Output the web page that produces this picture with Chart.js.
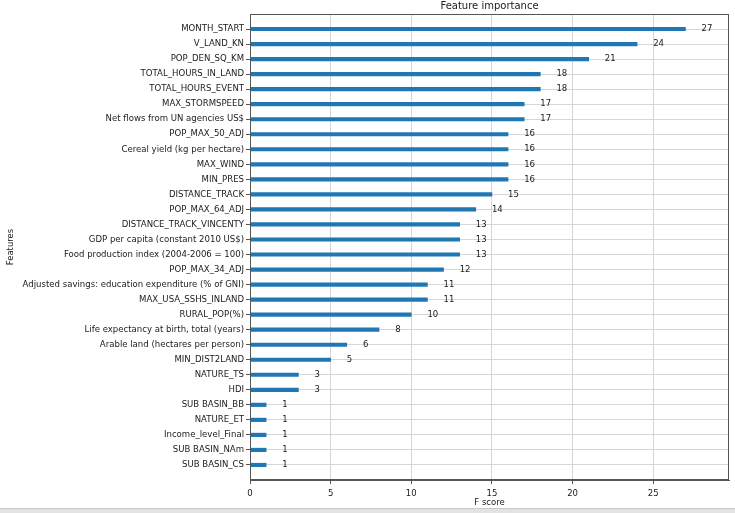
<!DOCTYPE html>
<html>
<head>
<meta charset="utf-8">
<script src="https://cdn.jsdelivr.net/npm/chart.js@4/dist/chart.umd.min.js"></script>
<style>
  html, body { margin: 0; padding: 0; background: #fff; }
  #wrap { position: relative; width: 735px; height: 508px; }
  #strip { width: 735px; height: 5px; background: #e3e3e3; border-top: 1px solid #c8c8c8; box-sizing: border-box; }
</style>
</head>
<body>
<div id="wrap"><canvas id="chart"></canvas></div>
<div id="strip"></div>
<script>
// — datos —
const features = [
  'MONTH_START', 'V_LAND_KN', 'POP_DEN_SQ_KM', 'TOTAL_HOURS_IN_LAND', 'TOTAL_HOURS_EVENT',
  'MAX_STORMSPEED', 'Net flows from UN agencies US$', 'POP_MAX_50_ADJ', 'Cereal yield (kg per hectare)',
  'MAX_WIND', 'MIN_PRES', 'DISTANCE_TRACK', 'POP_MAX_64_ADJ', 'DISTANCE_TRACK_VINCENTY',
  'GDP per capita (constant 2010 US$)', 'Food production index (2004-2006 = 100)', 'POP_MAX_34_ADJ',
  'Adjusted savings: education expenditure (% of GNI)', 'MAX_USA_SSHS_INLAND', 'RURAL_POP(%)',
  'Life expectancy at birth, total (years)', 'Arable land (hectares per person)', 'MIN_DIST2LAND',
  'NATURE_TS', 'HDI', 'SUB BASIN_BB', 'NATURE_ET', 'Income_level_Final', 'SUB BASIN_NAm', 'SUB BASIN_CS'
];
const fscores = [27, 24, 21, 18, 18, 17, 17, 16, 16, 16, 16, 15, 14, 13, 13, 13, 12, 11, 11, 10, 8, 6, 5, 3, 3, 1, 1, 1, 1, 1];
const xTicks = [0, 5, 10, 15, 20, 25];

const FONT = "'DejaVu Sans', sans-serif";
const BLUE = '#1f77b4';
const GRID = '#d6d6d6';
const SPINE = '#555';
const TEXT = '#1a1a1a';

// — marco, título y etiquetas de valor —
const extras = {
  id: 'extras',
  afterDatasetsDraw(chart) {
    const { ctx, chartArea: a, scales: { x, y } } = chart;
    ctx.save();
    // marco completo (arriba y derecha incluidos)
    ctx.strokeStyle = SPINE;
    ctx.lineWidth = 1;
    ctx.strokeRect(a.left + 0.5, a.top + 0.5, a.right - a.left - 1, a.bottom - a.top - 1);
    // título
    ctx.fillStyle = TEXT;
    ctx.font = `10px ${FONT}`;
    ctx.textAlign = 'center';
    ctx.textBaseline = 'middle';
    ctx.fillText('Feature importance', (a.left + a.right) / 2, a.top - 8);
    // valores al final de cada barra
    ctx.font = `8.5px ${FONT}`;
    ctx.textAlign = 'left';
    fscores.forEach((v, i) => {
      ctx.fillText(String(v), x.getPixelForValue(v + 1), y.getPixelForValue(i));
    });
    ctx.restore();
  }
};

const ctx = document.getElementById('chart').getContext('2d');
new Chart(ctx, {
  type: 'bar',
  data: {
    datasets: [{
      data: fscores.map((v, i) => ({ x: v, y: i })),
      backgroundColor: BLUE,
      borderWidth: 0,
      barThickness: 3.5
    }]
  },
  options: {
    indexAxis: 'y',
    responsive: true,
    maintainAspectRatio: false,
    animation: false,
    layout: { padding: { left: 0, right: 6, top: 14, bottom: 0 } },
    plugins: { legend: { display: false }, tooltip: { enabled: false } },
    scales: {
      x: {
        type: 'linear',
        min: 0,
        max: 29.7,
        afterBuildTicks: (s) => { s.ticks = xTicks.map(v => ({ value: v })); },
        afterFit: (s) => { s.height = 28; },
        grid: { color: GRID, tickColor: SPINE, tickLength: 4 },
        border: { color: SPINE },
        ticks: { color: TEXT, font: { family: FONT, size: 8.5 }, padding: 5, maxRotation: 0 },
        title: { display: true, text: 'F score', color: TEXT, font: { family: FONT, size: 8.5 }, padding: { top: 0, bottom: 0 } }
      },
      y: {
        type: 'linear',
        reverse: true,
        min: -1,
        max: 30,
        offset: false,
        afterBuildTicks: (s) => { s.ticks = features.map((_, i) => ({ value: i })); },
        afterFit: (s) => { s.width = 250; },
        grid: { color: GRID, tickColor: SPINE, tickLength: 4, offset: false },
        border: { color: SPINE },
        ticks: {
          color: TEXT,
          font: { family: FONT, size: 8.55 },
          padding: 2,
          autoSkip: false,
          callback: (v) => features[v] ?? ''
        },
        title: { display: true, text: 'Features', color: TEXT, font: { family: FONT, size: 8.5 }, padding: { top: 6, bottom: 0 } }
      }
    }
  },
  plugins: [extras]
});
</script>
</body>
</html>
